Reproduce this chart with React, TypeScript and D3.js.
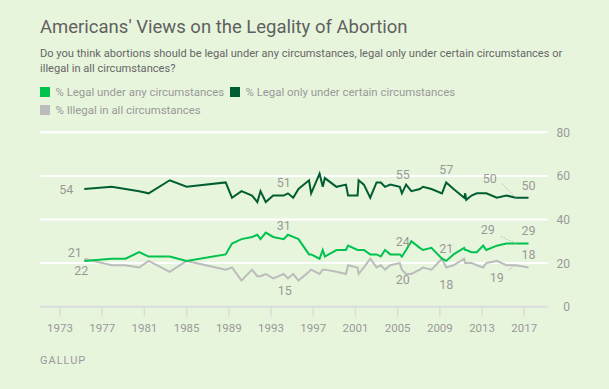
import { scaleLinear, line, range } from "d3";

// poll dates (decimal years) and results
const years = [
  1975.3, 1977.9, 1979.2, 1980.5, 1981.4, 1983.4, 1985.0, 1988.7, 1989.3, 1990.2,
  1991.2, 1991.7, 1992.0, 1992.5, 1993.2, 1994.2, 1994.6, 1995.1, 1995.6, 1996.6,
  1996.8, 1997.6, 1997.9, 1998.1, 1999.2, 2000.1, 2000.3, 2001.2, 2001.3, 2001.8,
  2002.4, 2003.0, 2003.4, 2003.8, 2004.3, 2005.2, 2005.4, 2005.8, 2006.3, 2007.1,
  2007.4, 2008.2, 2009.2, 2009.6, 2010.3, 2011.3, 2011.4, 2011.5, 2012.0, 2012.5,
  2013.1, 2013.4, 2014.4, 2015.3, 2016.2, 2017.4,
];
const legalAny = [
  21, 22, 22, 25, 23, 23, 21, 24, 29, 31,
  32, 33, 31, 34, 32, 31, 33, 32, 31, 24,
  24, 22, 26, 23, 26, 26, 28, 26, 26, 26,
  24, 24, 23, 26, 24, 24, 23, 26, 30, 27,
  26, 27, 22, 21, 24, 27, 26, 26, 25, 25,
  28, 26, 28, 29, 29, 29,
];
const legalCertain = [
  54, 55, 54, 53, 52, 58, 55, 57, 50, 53,
  51, 48, 53, 48, 51, 51, 52, 50, 54, 58,
  52, 61, 55, 59, 55, 56, 51, 51, 58, 56,
  50, 57, 57, 55, 56, 55, 52, 56, 53, 54,
  55, 54, 52, 57, 54, 50, 52, 49, 51, 52,
  52, 52, 50, 51, 50, 50,
];
const illegalAll = [
  22, 19, 19, 18, 21, 16, 21, 17, 18, 12,
  17, 14, 14, 15, 13, 15, 13, 15, 12, 16,
  17, 15, 17, 17, 16, 15, 19, 18, 15, 18,
  22, 18, 19, 17, 19, 20, 17, 15, 15, 17,
  18, 17, 22, 18, 19, 22, 20, 20, 20, 19,
  18, 20, 21, 19, 19, 18,
];

const seriesNames = [
  "% Legal under any circumstances",
  "% Legal only under certain circumstances",
  "% Illegal in all circumstances",
];
const seriesValues = [legalAny, legalCertain, illegalAll];
const colors = ["#00c24f", "#005e32", "#bcbcbc"];

const yTicks = [0, 20, 40, 60, 80];
const xTicks = range(1973, 2018, 4);

// annotations: series index, poll index, label offset
const labels = [
  { s: 1, i: 0, dx: -11, dy: 5, anchor: "end" },
  { s: 0, i: 0, dx: -2.5, dy: -4, anchor: "end" },
  { s: 2, i: 0, dx: 4, dy: 16.5, anchor: "end" },
  { s: 1, i: 15, dx: 0, dy: -9 },
  { s: 0, i: 15, dx: 0, dy: -9 },
  { s: 2, i: 15, dx: 1, dy: 21 },
  { s: 1, i: 35, dx: 3, dy: -8 },
  { s: 0, i: 35, dx: 3, dy: -8 },
  { s: 2, i: 35, dx: 3, dy: 21 },
  { s: 1, i: 43, dx: 0, dy: -8.6 },
  { s: 0, i: 43, dx: 0, dy: -8.4 },
  { s: 2, i: 43, dx: 0, dy: 22 },
  { s: 1, i: 55, dx: 0, dy: -8 },
  { s: 0, i: 55, dx: 0, dy: -8 },
  { s: 2, i: 55, dx: 0, dy: -8 },
  { s: 1, i: 54, dx: -26, dy: -14.5, lx: -14, ly: -14 },
  { s: 0, i: 54, dx: -28, dy: -9, lx: -15, ly: -7 },
  { s: 2, i: 54, dx: -19, dy: 16.6, lx: -7.5, ly: 5 },
];

const W = 609;
const H = 389;
const font = "Roboto, 'Liberation Sans', Arial, sans-serif";

export default function App() {
  const x = scaleLinear().domain([1971.105, 2019.218]).range([40, 547.7]);
  const y = scaleLinear().domain([0, 80]).range([306.7, 132.3]);

  const path = line<number>()
    .x((d, i) => x(years[i]))
    .y((d) => y(d));

  return (
    <div style={{ position: "fixed", left: 0, top: 0, width: W, height: H, background: "#e8f5dd" }}>
      <svg width={W} height={H} style={{ display: "block", fontFamily: font }}>
        <text x={40} y={33} fontSize={18.5} fill="#606060">
          Americans' Views on the Legality of Abortion
        </text>
        <text x={40} y={56.7} fontSize={11.1} fill="#666">
          Do you think abortions should be legal under any circumstances, legal only under certain circumstances or
        </text>
        <text x={40} y={71.7} fontSize={11.1} fill="#666">
          illegal in all circumstances?
        </text>

        {/* legend */}
        <rect x={40} y={87} width={10} height={10} fill={colors[0]} />
        <text x={55.5} y={95.5} fontSize={11.4} fill="#999">{seriesNames[0]}</text>
        <rect x={230} y={87} width={10} height={10} fill={colors[1]} />
        <text x={245.5} y={95.5} fontSize={11.4} fill="#999">{seriesNames[1]}</text>
        <rect x={40} y={105} width={10} height={10} fill={colors[2]} />
        <text x={55.5} y={113.5} fontSize={11.4} fill="#999">{seriesNames[2]}</text>

        {/* grid */}
        {yTicks.filter((t) => t > 0).map((t) => (
          <line key={t} x1={40} x2={547.7} y1={y(t)} y2={y(t)} stroke="#fff" strokeWidth={2} />
        ))}
        {yTicks.map((t) => (
          <text key={"yl" + t} x={570} y={y(t) + 4.5} fontSize={12} fill="#999" textAnchor="end">
            {t}
          </text>
        ))}

        {/* x axis */}
        <line x1={40} x2={547.7} y1={y(0)} y2={y(0)} stroke="#dcdcdc" strokeWidth={2} />
        {xTicks.map((t) => (
          <g key={t}>
            <line x1={x(t)} x2={x(t)} y1={y(0)} y2={y(0) + 10} stroke="#dcdcdc" strokeWidth={1.5} />
            <text x={x(t)} y={332} fontSize={11.5} fill="#999" textAnchor="middle">
              {t}
            </text>
          </g>
        ))}

        {/* lines */}
        {[2, 0, 1].map((s) => (
          <path
            key={s}
            d={path(seriesValues[s]) || ""}
            fill="none"
            stroke={colors[s]}
            strokeWidth={2}
            strokeLinejoin="miter"
          />
        ))}

        {/* annotations */}
        {labels.map((l, k) => {
          const px = x(years[l.i]);
          const py = y(seriesValues[l.s][l.i]);
          return (
            <g key={"lab" + k}>
              {l.lx !== undefined && (
                <line
                  x1={px + l.lx}
                  y1={py + l.ly}
                  x2={px}
                  y2={py}
                  stroke="#b5b5b5"
                  strokeWidth={1}
                  strokeDasharray="1.5,1.5"
                />
              )}
              <text
                x={px + l.dx}
                y={py + l.dy}
                fontSize={12.5}
                fill="#999"
                textAnchor={l.anchor || "middle"}
              >
                {seriesValues[l.s][l.i]}
              </text>
            </g>
          );
        })}

        <text x={40} y={364} fontSize={11} fill="#999" letterSpacing={1}>
          GALLUP
        </text>
      </svg>
    </div>
  );
}
